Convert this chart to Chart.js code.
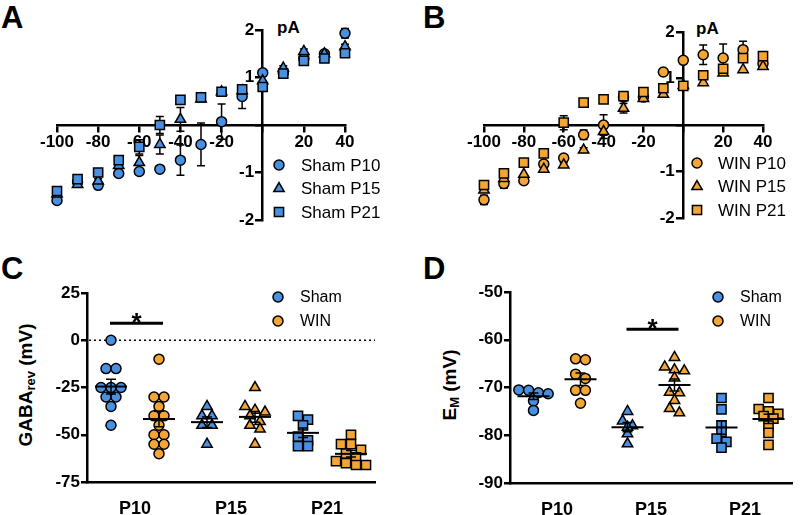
<!DOCTYPE html>
<html>
<head>
<meta charset="utf-8">
<script src="https://cdn.jsdelivr.net/npm/chart.js@4.4.0/dist/chart.umd.min.js"></script>
<style>
    body { margin: 0; background: #fff; width: 800px; height: 515px; position: relative; overflow: hidden;
           font-family: "Liberation Sans", Arial, sans-serif; }
    canvas { position: absolute; }
    .letter { position: absolute; font-weight: bold; font-size: 31px; line-height: 1; }
    .ytitle { position: absolute; font-weight: bold; font-size: 19px; white-space: nowrap;
              transform: translate(-50%, -50%) rotate(-90deg); }
    .ytitle sub { font-size: 13px; vertical-align: -3px; }
    .unit { position: absolute; font-weight: bold; font-size: 17px; line-height: 1; }
</style>
</head>
<body>
<div class="letter" style="left:1px;top:2px">A</div>
<div class="letter" style="left:423px;top:2px">B</div>
<div class="letter" style="left:1px;top:253px">C</div>
<div class="letter" style="left:423px;top:253px">D</div>
<div class="unit" style="left:277px;top:19px">pA</div>
<div class="unit" style="left:696px;top:20px">pA</div>
<div class="ytitle" style="left:26px;top:385px">GABA<sub>rev</sub> (mV)</div>
<div class="ytitle" style="left:450px;top:385px">E<sub>M</sub> (mV)</div>

<canvas id="chartA" width="400" height="245" style="left:0;top:0"></canvas>
<canvas id="chartB" width="400" height="245" style="left:400px;top:0"></canvas>
<canvas id="chartC" width="400" height="270" style="left:0;top:245px"></canvas>
<canvas id="chartD" width="400" height="270" style="left:400px;top:245px"></canvas>

<script>
// ---- data ----
const voltages = [-100, -90, -80, -70, -60, -50, -40, -30, -20, -10, 0, 10, 20, 30, 40];
const ivTicksX = [-100, -80, -60, -40, -20, 0, 20, 40];
const ivTicksY = [-2, -1, 0, 1, 2];

const shamP10 = [-1.59, -1.2, -1.27, -1.02, -0.98, -0.93, -0.74, -0.41, 0.07, 0.6, 1.1, 1.1, 1.4, 1.5, 1.93];
const shamP15 = [-1.45, -1.25, -1.18, -0.85, -0.79, -0.41, 0.12, 0.55, 0.7, 0.72, 0.93, 1.2, 1.55, 1.5, 1.65];
const shamP21 = [-1.39, -1.14, -1.0, -0.74, -0.46, 0.0, 0.53, 0.58, 0.7, 0.75, 0.8, 1.08, 1.35, 1.4, 1.51];
const shamP10Err = [0.05, 0, 0.05, 0, 0.05, 0, 0.32, 0.45, 0.37, 0.25, 0.05, 0, 0, 0, 0.1];
const shamP15Err = [0.05, 0.05, 0.05, 0, 0.15, 0.2, 0.25, 0, 0, 0, 0, 0.05, 0.05, 0, 0.05];
const shamP21Err = [0.05, 0.05, 0, 0, 0.15, 0.18, 0, 0, 0.05, 0, 0, 0, 0, 0, 0];

const winP10 = [-1.61, -1.26, -1.2, -0.84, -0.71, -0.21, 0.0, 0.6, 0.6, 1.14, 1.39, 1.51, 1.44, 1.62, 1.32];
const winP15 = [-1.4, -1.15, -1.06, -0.95, -0.86, -0.54, -0.14, 0.36, 0.57, 0.66, 0.85, 0.91, 1.12, 1.19, 1.26];
const winP21 = [-1.29, -1.04, -0.81, -0.61, 0.05, 0.48, 0.55, 0.62, 0.71, 0.79, 0.84, 1.07, 1.21, 1.44, 1.48];
const winP10Err = [0.1, 0.1, 0, 0, 0.05, 0.1, 0.22, 0, 0, 0, 0, 0.21, 0.3, 0.18, 0.05];
const winP15Err = [0, 0, 0, 0.05, 0.05, 0.05, 0.15, 0.1, 0, 0, 0, 0, 0, 0, 0];
const winP21Err = [0.05, 0.05, 0, 0, 0.15, 0, 0, 0.05, 0.05, 0, 0, 0, 0, 0, 0];

const stages = ['P10', 'P15', 'P21'];
const gabaTicks = [25, 0, -25, -50, -75];
const gabaShamP10 = [0, -15, -15, -25, -25, -25, -30, -30, -35, -45];
const gabaWinP10 = [-10, -30, -30, -35, -40, -40, -45, -50, -50, -55, -55, -60];
const gabaShamP15 = [-35, -40, -40, -45, -45, -55];
const gabaWinP15 = [-25, -35, -37, -38, -40, -43, -45, -47, -55];
const gabaShamP21 = [-40, -42, -45, -51, -53, -56, -56];
const gabaWinP21 = [-50, -55, -55, -58, -60, -62, -64, -65, -66, -66];

const emTicks = [-50, -60, -70, -80, -90];
const emShamP10 = [-70.5, -70.6, -71.1, -71.3, -72.8, -74.8];
const emWinP10 = [-64, -64.2, -67.2, -68.1, -70.6, -70.6, -73.3];
const emShamP15 = [-75, -77, -78, -78.3, -79.7, -81.8];
const emWinP15 = [-63.7, -65.7, -66.3, -66.5, -68, -71, -71.1, -72.7, -74.4, -75.3];
const emShamP21 = [-72.2, -74.6, -77.9, -79.3, -80.7, -81.4, -82.6];
const emWinP21 = [-72.2, -74.5, -75, -75.5, -76, -76.5, -78, -79.5, -82];

// ---- styles ----
const FONT = '"Liberation Sans", Arial, sans-serif';
const BLUE = '#4a90e2';
const ORANGE = '#f3a535';
const RADIUS = { circle: 5, triangle: 6, rect: 6.5 };

Chart.defaults.font.family = FONT;
Chart.defaults.color = '#000';

function drawMarker(ctx, style, x, y, fill) {
    const r = RADIUS[style];
    ctx.save();
    ctx.fillStyle = fill;
    ctx.strokeStyle = '#000';
    ctx.lineWidth = 1.5;
    ctx.beginPath();
    if (style === 'circle') {
        ctx.arc(x, y, r, 0, Math.PI * 2);
    } else if (style === 'triangle') {
        ctx.moveTo(x, y - r);
        ctx.lineTo(x + 0.866 * r, y + 0.5 * r);
        ctx.lineTo(x - 0.866 * r, y + 0.5 * r);
        ctx.closePath();
    } else {
        const s = r * Math.SQRT1_2;
        ctx.rect(x - s, y - s, 2 * s, 2 * s);
    }
    ctx.fill();
    ctx.stroke();
    ctx.restore();
}

// legend drawn inside the plot, Prism style
const markerLegend = {
    id: 'markerLegend',
    afterDraw(chart, args, opts) {
        const ctx = chart.ctx;
        opts.items.forEach((it, i) => {
            const y = opts.y + i * opts.gap;
            drawMarker(ctx, it.style, opts.x, y, it.color);
            ctx.save();
            ctx.fillStyle = '#000';
            ctx.font = opts.size + 'px ' + FONT;
            ctx.textBaseline = 'middle';
            ctx.fillText(it.label, opts.textX, y + 1);
            ctx.restore();
        });
    }
};

// vertical SEM bars for the I-V points
const ivErrors = {
    id: 'ivErrors',
    beforeDatasetsDraw(chart) {
        const ctx = chart.ctx;
        const { x: xs, y: ys } = chart.scales;
        ctx.save();
        ctx.strokeStyle = '#000';
        ctx.lineWidth = 1.5;
        chart.data.datasets.forEach(ds => {
            ds.data.forEach((p, i) => {
                const e = ds.errorBars[i];
                if (!e) return;
                const px = xs.getPixelForValue(p.x);
                const y1 = ys.getPixelForValue(p.y - e);
                const y2 = ys.getPixelForValue(p.y + e);
                ctx.beginPath();
                ctx.moveTo(px, y1); ctx.lineTo(px, y2);
                ctx.moveTo(px - 4, y1); ctx.lineTo(px + 4, y1);
                ctx.moveTo(px - 4, y2); ctx.lineTo(px + 4, y2);
                ctx.stroke();
            });
        });
        ctx.restore();
    }
};

// mean line + SEM for scatter dot plots
const meanSem = {
    id: 'meanSem',
    afterDatasetsDraw(chart) {
        const ctx = chart.ctx;
        const { x: xs, y: ys } = chart.scales;
        ctx.save();
        ctx.strokeStyle = '#000';
        chart.data.datasets.forEach(ds => {
            const v = ds.values;
            const n = v.length;
            const mean = v.reduce((a, b) => a + b, 0) / n;
            const sd = Math.sqrt(v.reduce((a, b) => a + (b - mean) * (b - mean), 0) / (n - 1));
            const sem = sd / Math.sqrt(n);
            const cx = xs.getPixelForValue(ds.groupX);
            const my = ys.getPixelForValue(mean);
            const t = ys.getPixelForValue(mean + sem);
            const b = ys.getPixelForValue(mean - sem);
            ctx.lineWidth = 2;
            ctx.beginPath();
            ctx.moveTo(cx - 16, my); ctx.lineTo(cx + 16, my);
            ctx.stroke();
            ctx.lineWidth = 1.5;
            ctx.beginPath();
            ctx.moveTo(cx, t); ctx.lineTo(cx, b);
            ctx.moveTo(cx - 5, t); ctx.lineTo(cx + 5, t);
            ctx.moveTo(cx - 5, b); ctx.lineTo(cx + 5, b);
            ctx.stroke();
        });
        ctx.restore();
    }
};

// dotted zero line and significance bar
const annotations = {
    id: 'annotations',
    beforeDatasetsDraw(chart, args, opts) {
        if (opts.zeroLine === undefined) return;
        const ctx = chart.ctx;
        const y = chart.scales.y.getPixelForValue(opts.zeroLine);
        ctx.save();
        ctx.strokeStyle = '#000';
        ctx.lineWidth = 1.5;
        ctx.setLineDash([2, 3]);
        ctx.beginPath();
        ctx.moveTo(chart.chartArea.left + 2, y);
        ctx.lineTo(chart.chartArea.right, y);
        ctx.stroke();
        ctx.restore();
    },
    afterDraw(chart, args, opts) {
        const ctx = chart.ctx;
        const { x: xs, y: ys } = chart.scales;
        const x1 = xs.getPixelForValue(opts.sigFrom) - 1;
        const x2 = xs.getPixelForValue(opts.sigTo) + 4;
        const y = ys.getPixelForValue(opts.sigY);
        ctx.save();
        ctx.strokeStyle = '#000';
        ctx.lineWidth = 3;
        ctx.beginPath();
        ctx.moveTo(x1, y); ctx.lineTo(x2, y);
        ctx.stroke();
        ctx.fillStyle = '#000';
        ctx.font = 'bold 26px ' + FONT;
        ctx.textAlign = 'center';
        ctx.textBaseline = 'alphabetic';
        ctx.fillText('*', (x1 + x2) / 2, y + 8);
        ctx.restore();
    }
};

function ivDataset(label, values, errors, style, color, order) {
    return {
        label: label,
        data: voltages.map((v, i) => ({ x: v, y: values[i] })),
        errorBars: errors,
        pointStyle: style,
        pointRadius: RADIUS[style],
        backgroundColor: color,
        borderColor: '#000',
        borderWidth: 1.5,
        clip: false,
        order: order
    };
}

function ivChart(id, datasets, pad, legend) {
    const tickFont = { size: 17, weight: 'bold' };
    return new Chart(document.getElementById(id), {
        type: 'scatter',
        data: { datasets: datasets },
        options: {
            responsive: false,
            animation: false,
            events: [],
            layout: { padding: pad },
            scales: {
                x: {
                    type: 'linear', min: -100, max: 40, position: { y: 0 },
                    afterBuildTicks: ax => { ax.ticks = ivTicksX.map(v => ({ value: v })); },
                    ticks: { font: tickFont, color: '#000', padding: 1, maxRotation: 0,
                             callback: v => (v === 0 ? '' : v) },
                    grid: { drawOnChartArea: false, color: '#000', lineWidth: 2.5, tickLength: 6 },
                    border: { color: '#000', width: 2.5 }
                },
                y: {
                    type: 'linear', min: -2, max: 2, position: { x: 0 },
                    afterBuildTicks: ax => { ax.ticks = ivTicksY.map(v => ({ value: v })); },
                    // labels of a value-positioned axis sit right on the axis line: pad with an en space
                    ticks: { font: tickFont, color: '#000',
                             callback: v => (v === 0 ? '' : v + '\u2002') },
                    grid: { drawOnChartArea: false, color: '#000', lineWidth: 2.5, tickLength: 6 },
                    border: { color: '#000', width: 2.5 }
                }
            },
            plugins: {
                legend: { display: false },
                tooltip: { enabled: false },
                markerLegend: legend
            }
        },
        plugins: [ivErrors, markerLegend]
    });
}

// Prism-like swarm: points with close values share a row, centred on the group
function swarm(values, center, pxPerX, pxPerY) {
    const gap = 10;
    const sorted = values.slice().sort((a, b) => b - a);
    const rows = [];
    sorted.forEach(v => {
        const row = rows[rows.length - 1];
        if (row && Math.abs(row[0] - v) * pxPerY < gap * 0.6) row.push(v);
        else rows.push([v]);
    });
    const pts = [];
    rows.forEach(row => row.forEach((v, k) => {
        pts.push({ x: center + (k - (row.length - 1) / 2) * gap / pxPerX, y: v });
    }));
    return pts;
}

function dotChart(id, groups, yMin, yMax, ticks, area, legendX, sig, zeroLine) {
    const yAxisW = 60;
    const pxPerX = (area.right - area.left) / 6;
    const pxPerY = (area.bottom - area.top) / (yMax - yMin);
    const datasets = groups.map((g, i) => ({
        label: g.label,
        values: g.values,
        groupX: i,
        data: swarm(g.values, i, pxPerX, pxPerY),
        pointStyle: g.style,
        pointRadius: RADIUS[g.style],
        backgroundColor: g.color,
        borderColor: '#000',
        borderWidth: 1.5,
        clip: false
    }));
    return new Chart(document.getElementById(id), {
        type: 'scatter',
        data: { datasets: datasets },
        options: {
            responsive: false,
            animation: false,
            events: [],
            layout: { padding: { left: area.left - yAxisW, right: 400 - area.right, top: area.top, bottom: 0 } },
            scales: {
                x: {
                    type: 'linear', min: -0.5, max: 5.5, position: 'bottom',
                    afterBuildTicks: ax => { ax.ticks = [0.5, 2.5, 4.5].map(v => ({ value: v })); },
                    afterFit: ax => { ax.height = 270 - area.bottom; },
                    ticks: { font: { size: 18, weight: 'bold' }, color: '#000', padding: 8, maxRotation: 0,
                             callback: v => stages[Math.round((v - 0.5) / 2)] },
                    grid: { display: false },
                    border: { color: '#000', width: 2.5 }
                },
                y: {
                    type: 'linear', min: yMin, max: yMax, position: 'left',
                    afterBuildTicks: ax => { ax.ticks = ticks.map(v => ({ value: v })); },
                    afterFit: ax => { ax.width = yAxisW; },
                    ticks: { font: { size: 17, weight: 'bold' }, color: '#000', padding: 1 },
                    grid: { drawOnChartArea: false, color: '#000', lineWidth: 2.5, tickLength: 6 },
                    border: { color: '#000', width: 2.5 }
                }
            },
            plugins: {
                legend: { display: false },
                tooltip: { enabled: false },
                markerLegend: {
                    x: legendX, textX: legendX + 22, y: 52, gap: 24, size: 16,
                    items: [
                        { label: 'Sham', style: 'circle', color: BLUE },
                        { label: 'WIN', style: 'circle', color: ORANGE }
                    ]
                },
                annotations: Object.assign({ zeroLine: zeroLine }, sig)
            }
        },
        plugins: [annotations, meanSem, markerLegend]
    });
}

window.onload = function () {
    ivChart('chartA', [
        ivDataset('Sham P21', shamP21, shamP21Err, 'rect', BLUE, 0),
        ivDataset('Sham P15', shamP15, shamP15Err, 'triangle', BLUE, 1),
        ivDataset('Sham P10', shamP10, shamP10Err, 'circle', BLUE, 2)
    ], { left: 57, right: 55, top: 30, bottom: 25 }, {
        x: 279, textX: 301, y: 165, gap: 23.5, size: 17,
        items: [
            { label: 'Sham P10', style: 'circle', color: BLUE },
            { label: 'Sham P15', style: 'triangle', color: BLUE },
            { label: 'Sham P21', style: 'rect', color: BLUE }
        ]
    });

    ivChart('chartB', [
        ivDataset('WIN P21', winP21, winP21Err, 'rect', ORANGE, 0),
        ivDataset('WIN P15', winP15, winP15Err, 'triangle', ORANGE, 1),
        ivDataset('WIN P10', winP10, winP10Err, 'circle', ORANGE, 2)
    ], { left: 84, right: 37, top: 32, bottom: 27 }, {
        x: 297, textX: 318, y: 163, gap: 23.5, size: 17,
        items: [
            { label: 'WIN P10', style: 'circle', color: ORANGE },
            { label: 'WIN P15', style: 'triangle', color: ORANGE },
            { label: 'WIN P21', style: 'rect', color: ORANGE }
        ]
    });

    dotChart('chartC', [
        { label: 'Sham P10', values: gabaShamP10, style: 'circle', color: BLUE },
        { label: 'WIN P10', values: gabaWinP10, style: 'circle', color: ORANGE },
        { label: 'Sham P15', values: gabaShamP15, style: 'triangle', color: BLUE },
        { label: 'WIN P15', values: gabaWinP15, style: 'triangle', color: ORANGE },
        { label: 'Sham P21', values: gabaShamP21, style: 'rect', color: BLUE },
        { label: 'WIN P21', values: gabaWinP21, style: 'rect', color: ORANGE }
    ], -75, 25, gabaTicks, { left: 87, right: 375, top: 48, bottom: 237 }, 278,
       { sigFrom: 0, sigTo: 1, sigY: 9 }, 0);

    dotChart('chartD', [
        { label: 'Sham P10', values: emShamP10, style: 'circle', color: BLUE },
        { label: 'WIN P10', values: emWinP10, style: 'circle', color: ORANGE },
        { label: 'Sham P15', values: emShamP15, style: 'triangle', color: BLUE },
        { label: 'WIN P15', values: emWinP15, style: 'triangle', color: ORANGE },
        { label: 'Sham P21', values: emShamP21, style: 'rect', color: BLUE },
        { label: 'WIN P21', values: emWinP21, style: 'rect', color: ORANGE }
    ], -90, -50, emTicks, { left: 110, right: 398, top: 47, bottom: 238 }, 318,
       { sigFrom: 2, sigTo: 3, sigY: -57.8 }, undefined);
};
</script>
</body>
</html>
